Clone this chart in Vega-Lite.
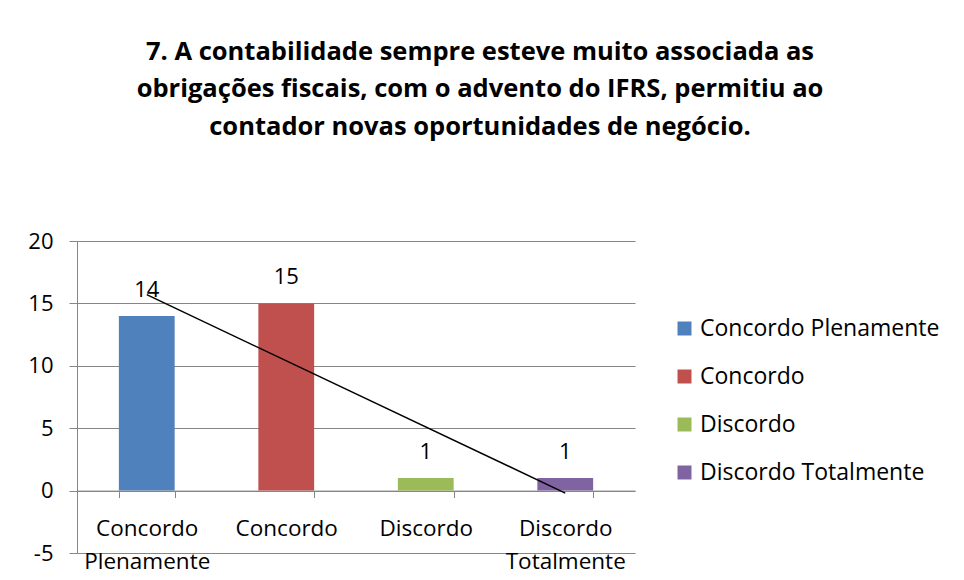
{
  "$schema": "https://vega.github.io/schema/vega-lite/v6.json",
  "width": 558,
  "height": 312,
  "autosize": {"type": "none"},
  "padding": {"left": 77, "top": 241, "right": 329, "bottom": 27},
  "background": "white",
  "config": {"view": {"stroke": null}},
  "title": {
    "text": ["7. A contabilidade sempre esteve muito associada as", "obrigações fiscais, com o advento do IFRS, permitiu ao", "contador novas oportunidades de negócio."],
    "font": "Open Sans",
    "fontSize": 25.5,
    "fontWeight": "bold",
    "color": "black",
    "lineHeight": 37.5,
    "anchor": "middle",
    "frame": "group",
    "dx": 124,
    "offset": 90
  },
  "data": {
    "values": [
      {"cat": "Concordo Plenamente", "idx": 1, "value": 14},
      {"cat": "Concordo", "idx": 2, "value": 15},
      {"cat": "Discordo", "idx": 3, "value": 1},
      {"cat": "Discordo Totalmente", "idx": 4, "value": 1}
    ]
  },
  "layer": [
    {
      "mark": {"type": "bar"},
      "encoding": {
        "x": {
          "field": "cat", "type": "nominal", "sort": null,
          "scale": {"paddingInner": 0.6, "paddingOuter": 0.3},
          "axis": {
            "title": null, "orient": "bottom", "offset": -62.4,
            "labelAngle": 0,
            "labelExpr": "split(datum.label, ' ')",
            "labelFont": "Open Sans", "labelFontSize": 22.5, "labelLineHeight": 33,
            "labelColor": "black", "labelPadding": 20,
            "tickBand": "extent", "tickSize": 7, "tickColor": "#868686",
            "domainColor": "#868686", "grid": false
          }
        },
        "y": {
          "field": "value", "type": "quantitative",
          "scale": {"domain": [-5, 20], "nice": false, "zero": false},
          "axis": {
            "title": null, "values": [-5, 0, 5, 10, 15, 20],
            "labelExpr": "'' + datum.value",
            "grid": true, "gridColor": "#868686",
            "tickSize": 8, "tickColor": "#868686", "domainColor": "#868686",
            "labelFont": "Open Sans", "labelFontSize": 22, "labelColor": "black",
            "labelPadding": 16
          }
        },
        "color": {
          "field": "cat", "type": "nominal", "sort": null,
          "scale": {
            "domain": ["Concordo Plenamente", "Concordo", "Discordo", "Discordo Totalmente"],
            "range": ["#4F81BD", "#C0504D", "#9BBB59", "#8064A2"]
          },
          "legend": {
            "orient": "none", "legendX": 596, "legendY": 76, "title": null,
            "symbolType": "square", "symbolSize": 196, "symbolStrokeWidth": 0,
            "labelFont": "Open Sans", "labelFontSize": 23, "labelColor": "black",
            "labelLimit": 0,
            "rowPadding": 24, "labelOffset": 4, "padding": 0
          }
        }
      }
    },
    {
      "mark": {"type": "text", "dy": -19, "baseline": "alphabetic", "font": "Open Sans", "fontSize": 22, "color": "black"},
      "encoding": {
        "x": {"field": "cat", "type": "nominal", "sort": null, "axis": null},
        "y": {"field": "value", "type": "quantitative"},
        "text": {"field": "value", "type": "quantitative"}
      }
    },
    {
      "transform": [{"regression": "value", "on": "idx"}],
      "mark": {"type": "line", "color": "black", "strokeWidth": 1.5},
      "encoding": {
        "x": {"field": "idx", "type": "quantitative", "scale": {"domain": [0.5, 4.5], "nice": false, "zero": false}, "axis": null},
        "y": {"field": "value", "type": "quantitative"}
      }
    }
  ],
  "resolve": {"scale": {"x": "independent"}}
}
